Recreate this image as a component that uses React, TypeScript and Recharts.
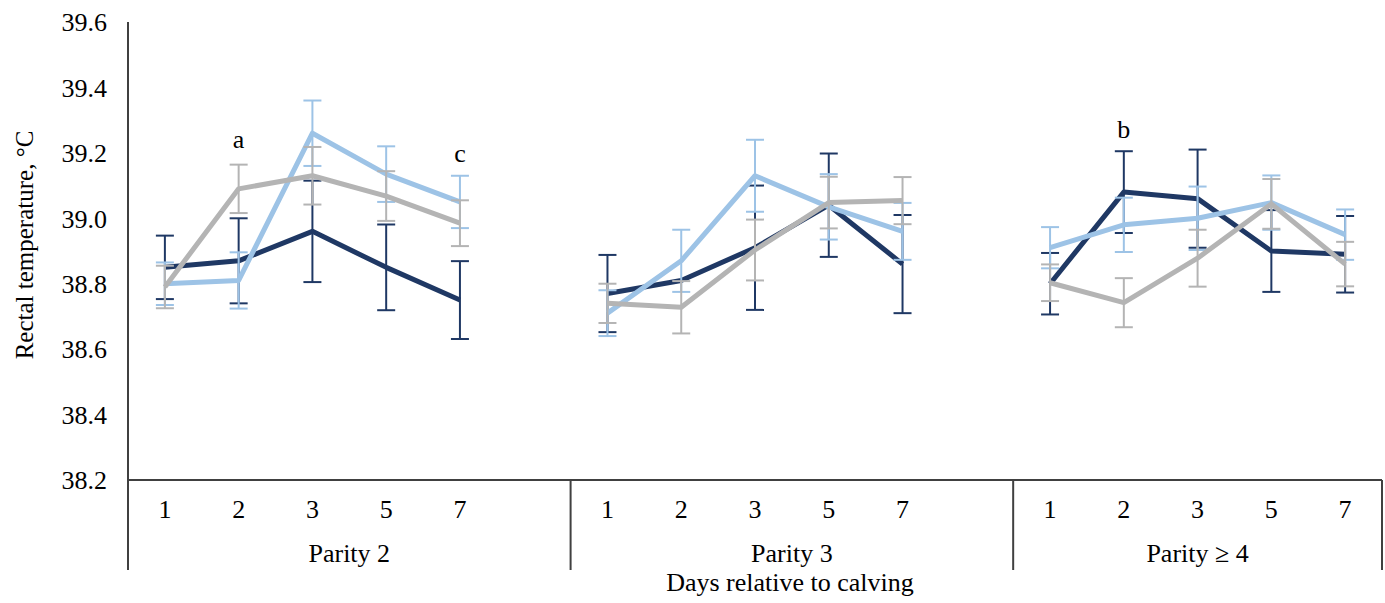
import React from "react";
import { ErrorBar, Label, Line, LineChart, ReferenceDot, XAxis, YAxis } from "recharts";

// days sampled in each parity group
const days = ["1", "2", "3", "5", "7"];
const groups = ["Parity 2", "Parity 3", "Parity \u2265 4"];

// means and SE (Parity 2, Parity 3, Parity >= 4, days 1,2,3,5,7)
const navyMean = [38.85, 38.87, 38.96, 38.85, 38.75, 38.77, 38.81, 38.91, 39.04, 38.86, 38.8, 39.08, 39.06, 38.9, 38.89];
const navyErr = [0.097, 0.13, 0.155, 0.131, 0.119, 0.118, null, 0.19, 0.158, 0.15, 0.094, 0.125, 0.15, 0.125, 0.117];
const lightMean = [38.8, 38.81, 39.26, 39.135, 39.05, 38.71, 38.87, 39.13, 39.035, 38.96, 38.91, 38.98, 39.0, 39.048, 38.95];
const lightErr = [0.065, 0.086, 0.1, 0.085, 0.08, 0.07, 0.095, 0.11, 0.1, 0.087, 0.063, 0.083, 0.097, 0.083, 0.077];
const grayMean = [38.79, 39.09, 39.13, 39.068, 38.985, 38.74, 38.728, 38.903, 39.048, 39.054, 38.803, 38.742, 38.878, 39.044, 38.86];
const grayErr = [0.065, 0.074, 0.088, 0.076, 0.07, 0.06, 0.08, 0.093, 0.079, 0.072, 0.056, 0.075, 0.087, 0.076, 0.068];

const yTicks = [38.2, 38.4, 38.6, 38.8, 39.0, 39.2, 39.4, 39.6];

// significance letters: group index, day index, height
const letterText = ["a", "c", "b"];
const letterGroup = [0, 0, 2];
const letterDay = [1, 4, 1];
const letterValue = [39.244, 39.199, 39.274];

const NAVY = "#1F3864";
const LIGHT = "#9DC3E6";
const GRAY = "#B4B4B4";
const AXIS = "#404040";
const FONT = "'Liberation Serif', 'Times New Roman', serif";
const FS = 26;

const SLOTS = days.length + 1; // one empty slot after every group
const slotOf = (g: number, d: number) => g * SLOTS + d;

type Row = {
  slot: number;
  day: string;
  navy: number | null;
  navyErr: number | null;
  light: number | null;
  lightErr: number | null;
  gray: number | null;
  grayErr: number | null;
};

const rows: Row[] = [];
groups.forEach((_, g) => {
  days.forEach((d, di) => {
    const i = g * days.length + di;
    rows.push({
      slot: slotOf(g, di),
      day: d,
      navy: navyMean[i],
      navyErr: navyErr[i],
      light: lightMean[i],
      lightErr: lightErr[i],
      gray: grayMean[i],
      grayErr: grayErr[i],
    });
  });
  if (g < groups.length - 1) {
    rows.push({ slot: slotOf(g, days.length), day: "", navy: null, navyErr: null, light: null, lightErr: null, gray: null, grayErr: null });
  }
});

const lastSlot = slotOf(groups.length - 1, days.length - 1);
const boundaries = [-0.5, ...groups.slice(1).map((_, g) => slotOf(g, days.length) + 0.5), lastSlot + 0.5];
// tiny offset so a group centre never shares a tick value with a day
const centers = groups.map((_, g) => (boundaries[g] + boundaries[g + 1]) / 2 + 0.0001);
const xTicks = [...rows.filter((r) => r.day !== "").map((r) => r.slot), ...boundaries, ...centers];

function AxisTick(props: any) {
  const { x, y, payload } = props;
  const v = payload.value;
  if (boundaries.includes(v)) {
    return <line x1={x} x2={x} y1={y} y2={y + 90} stroke={AXIS} strokeWidth={2} />;
  }
  const gi = centers.indexOf(v);
  if (gi >= 0) {
    return (
      <text x={x} y={y + 82} textAnchor="middle" fontSize={FS} fontFamily={FONT} fill="#000">
        {groups[gi]}
      </text>
    );
  }
  const row = rows.find((r) => r.slot === v);
  return (
    <text x={x} y={y + 38} textAnchor="middle" fontSize={FS} fontFamily={FONT} fill="#000">
      {row ? row.day : ""}
    </text>
  );
}

export default function App() {
  return (
    <div style={{ position: "absolute", left: 0, top: 0, background: "#fff" }}>
      <LineChart width={1385} height={603} data={rows} margin={{ top: 22, right: 3, bottom: 0, left: 0 }}>
        <XAxis
          type="number"
          dataKey="slot"
          domain={[-0.5, lastSlot + 0.5]}
          ticks={xTicks}
          interval={0}
          tick={<AxisTick />}
          tickLine={false}
          tickSize={0}
          tickMargin={0}
          height={123}
          axisLine={{ stroke: AXIS, strokeWidth: 2 }}
        >
          <Label
            content={({ viewBox }: any) => (
              <text
                x={viewBox.x + viewBox.width / 2 + 35}
                y={591}
                textAnchor="middle"
                fontSize={FS}
                fontFamily={FONT}
                fill="#000"
              >
                Days relative to calving
              </text>
            )}
          />
        </XAxis>
        <YAxis
          domain={[38.2, 39.6]}
          ticks={yTicks}
          interval={0}
          width={128}
          tickLine={false}
          tickSize={0}
          tickMargin={21}
          tickFormatter={(v: number) => v.toFixed(1)}
          tick={{ fontSize: FS, fill: "#000", fontFamily: FONT }}
          axisLine={{ stroke: AXIS, strokeWidth: 2 }}
        >
          <Label
            content={({ viewBox }: any) => {
              const cy = viewBox.y + viewBox.height / 2 - 6;
              return (
                <text
                  x={33}
                  y={cy}
                  transform={`rotate(-90 33 ${cy})`}
                  textAnchor="middle"
                  fontSize={25}
                  fontFamily={FONT}
                  fill="#000"
                >
                  Rectal temperature, °C
                </text>
              );
            }}
          />
        </YAxis>
        <Line dataKey="navy" stroke={NAVY} strokeWidth={5} dot={false} isAnimationActive={false} strokeLinejoin="round">
          <ErrorBar dataKey="navyErr" width={9} strokeWidth={2} stroke={NAVY} direction="y" isAnimationActive={false} />
        </Line>
        <Line dataKey="light" stroke={LIGHT} strokeWidth={5} dot={false} isAnimationActive={false} strokeLinejoin="round">
          <ErrorBar dataKey="lightErr" width={9} strokeWidth={2} stroke={LIGHT} direction="y" isAnimationActive={false} />
        </Line>
        <Line dataKey="gray" stroke={GRAY} strokeWidth={5} dot={false} isAnimationActive={false} strokeLinejoin="round">
          <ErrorBar dataKey="grayErr" width={9} strokeWidth={2} stroke={GRAY} direction="y" isAnimationActive={false} />
        </Line>
        {letterText.map((t, i) => (
          <ReferenceDot
            key={t}
            x={slotOf(letterGroup[i], letterDay[i])}
            y={letterValue[i]}
            r={0}
            fill="none"
            stroke="none"
            label={{ value: t, position: "center", fontSize: FS, fill: "#000", fontFamily: FONT }}
          />
        ))}
      </LineChart>
    </div>
  );
}
